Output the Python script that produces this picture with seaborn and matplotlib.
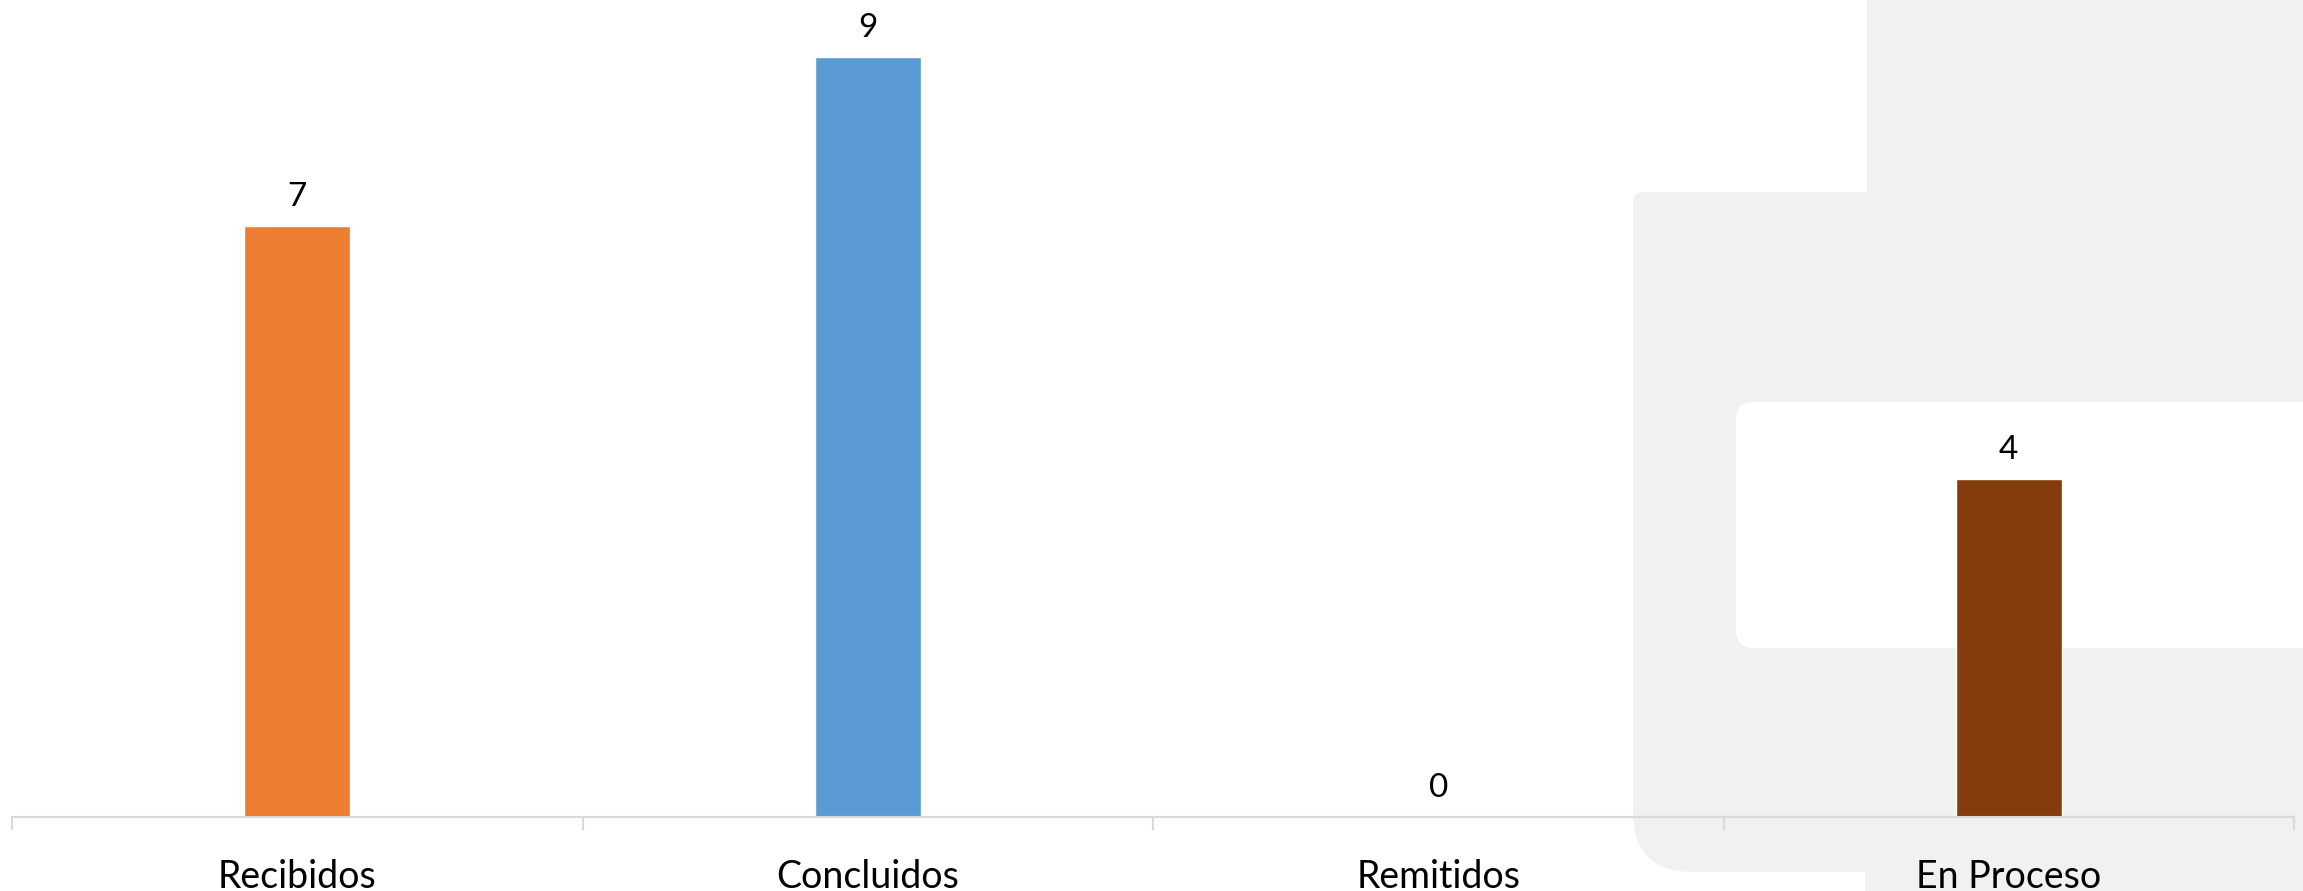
import matplotlib
matplotlib.use("Agg")
import matplotlib.pyplot as plt
import seaborn as sns
import pandas as pd
from matplotlib.patches import FancyBboxPatch, Rectangle

# data
categorias = ["Recibidos", "Concluidos", "Remitidos", "En Proceso"]
valores = [7, 9, 0, 4]
colores = ["#ED7D31", "#5B9BD5", "#A5A5A5", "#843C0C"]

df = pd.DataFrame({"cat": categorias, "val": valores})

sns.set_style("white")
plt.rcParams["font.family"] = ["Lato", "DejaVu Sans"]

W, H = 2303, 891
fig = plt.figure(figsize=(W / 100, H / 100), dpi=100)

# decorative background shape (pixel coords)
bg = fig.add_axes([0, 0, 1, 1], zorder=0)
bg.set_xlim(0, W)
bg.set_ylim(H, 0)
bg.axis("off")
gris = "#F0F1F0"
bg.add_patch(Rectangle((1867, -10), 500, 220, fc=gris, ec="none"))
bg.add_patch(FancyBboxPatch((1633, 192), 800, 680, boxstyle="round,pad=0,rounding_size=60",
                            fc=gris, ec="none"))
bg.add_patch(FancyBboxPatch((1633, 192), 800, 200, boxstyle="round,pad=0,rounding_size=10",
                            fc=gris, ec="none"))
bg.add_patch(Rectangle((1865, 800), 500, 120, fc=gris, ec="none"))
bg.add_patch(FancyBboxPatch((1736, 402), 700, 246, boxstyle="round,pad=0,rounding_size=18",
                            fc="white", ec="none"))

# main chart
ax = fig.add_axes([12 / W, (H - 817) / H, (2294 - 12) / W, 817 / H], zorder=1)
ax.patch.set_alpha(0)
sns.barplot(data=df, x="cat", y="val", hue="cat", palette=colores, width=0.186,
            legend=False, ax=ax, saturation=1)
ax.set_xlim(-0.5, 3.5)
ax.set_ylim(0, 817 / 84.45)

for cont in ax.containers:
    ax.bar_label(cont, fmt="%d", padding=10, fontsize=24, color="#000000")

for s in ["top", "left", "right"]:
    ax.spines[s].set_visible(False)
ax.spines["bottom"].set_color("#D9D9D9")
ax.spines["bottom"].set_linewidth(1.5)

ax.set_yticks([])
ax.set_xlabel("")
ax.set_ylabel("")
ax.set_xticks(range(len(categorias)))
ax.set_xticklabels(categorias, fontsize=27, color="#000000")
ax.tick_params(axis="x", which="major", bottom=True, length=0, pad=30)
ax.set_xticks([-0.5, 0.5, 1.5, 2.5, 3.5], minor=True)
ax.tick_params(axis="x", which="minor", bottom=True, length=9, width=1.5, color="#D9D9D9")

fig.savefig("out.png", dpi=100)
